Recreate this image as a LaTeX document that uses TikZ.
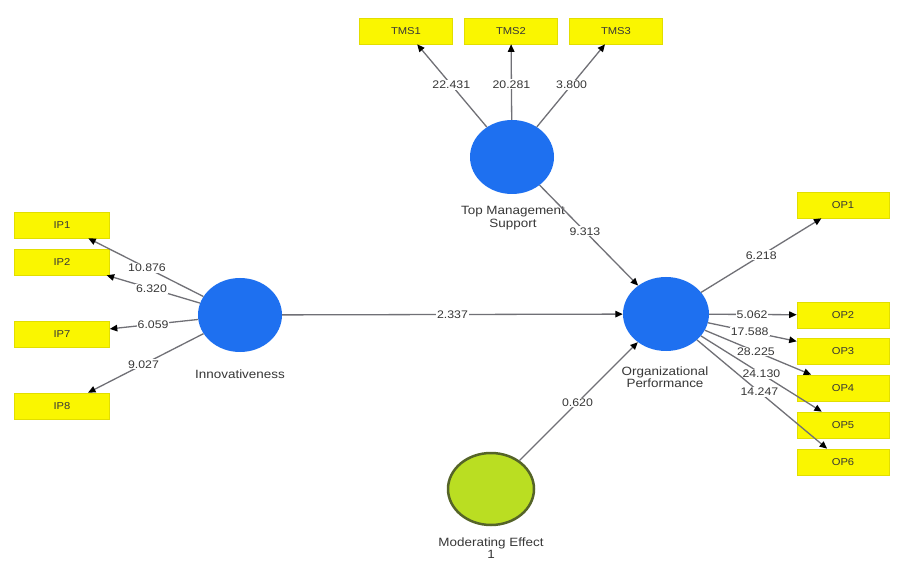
\documentclass[tikz,border=0pt]{standalone}
\usepackage{fontspec}
\setmainfont{Liberation Sans}[FakeStretch=1.12]
\usetikzlibrary{shapes.geometric,arrows.meta}
\definecolor{lvblue}{RGB}{30,112,240}
\definecolor{modgreen}{RGB}{186,222,34}
\definecolor{modedge}{RGB}{85,100,40}
\definecolor{itemyellow}{RGB}{250,246,0}
\definecolor{itemedge}{RGB}{226,222,0}
\definecolor{pathgray}{RGB}{112,112,118}
\definecolor{txtgray}{RGB}{55,55,55}

\begin{document}
\begin{tikzpicture}[x=1pt,y=-1pt,
  latent/.style={ellipse, fill=lvblue, minimum width=84pt, minimum height=74pt, inner sep=0pt},
  moderator/.style={ellipse, fill=modgreen, draw=modedge, line width=2.5pt,
    minimum width=86pt, minimum height=72pt, inner sep=0pt},
  item/.style={rectangle, fill=itemyellow, draw=itemedge, line width=0.6pt,
    minimum width=93pt, minimum height=26pt, inner sep=0pt,
    font=\fontsize{10}{12}\selectfont, text=txtgray},
  caption/.style={font=\fontsize{12}{12.5}\selectfont, text=txtgray, align=center, inner sep=0pt},
  weight/.style={font=\fontsize{11}{12}\selectfont, text=txtgray, fill=white, inner sep=1pt},
  link/.style={draw=pathgray, line width=1.3pt,
    -{Triangle[length=7.5pt,width=6.5pt,color=black]}},
]
% canvas
\fill[white] (0,0) rectangle (897,561);
\clip (0,0) rectangle (897,561);

% latent variables
\node[latent] (tms) at (512,157) {};
\node[latent] (inn) at (240,315) {};
\node[latent, minimum width=86pt] (op) at (666,314) {};
\node[moderator] (mod) at (491,489) {};

\node[caption] (tmscap) at (513,218) {Top Management\\Support};
\node[caption] (inncap) at (240,374) {Innovativeness};
\node[caption] (opcap) at (665,377) {Organizational\\Performance};
\node[caption, font=\fontsize{12}{10.5}\selectfont] (modcap) at (491,548) {Moderating Effect\\1};

% indicators
\node[item] (tms1) at (406,31) {TMS1};
\node[item] (tms2) at (511,31) {TMS2};
\node[item] (tms3) at (616,31) {TMS3};

\node[item, minimum width=95pt] (ip1) at (62,225) {IP1};
\node[item, minimum width=95pt] (ip2) at (62,262) {IP2};
\node[item, minimum width=95pt] (ip7) at (62,334) {IP7};
\node[item, minimum width=95pt] (ip8) at (62,406) {IP8};

\node[item, minimum width=92pt] (op1) at (843,205) {OP1};
\node[item, minimum width=92pt] (op2) at (843,315) {OP2};
\node[item, minimum width=92pt] (op3) at (843,351) {OP3};
\node[item, minimum width=92pt] (op4) at (843,388) {OP4};
\node[item, minimum width=92pt] (op5) at (843,425) {OP5};
\node[item, minimum width=92pt] (op6) at (843,462) {OP6};

% outer loadings
\draw[link] (tms) -- node[weight, pos=0.51] {22.431} (tms1);
\draw[link] (tms) -- node[weight, pos=0.47] {20.281} (tms2);
\draw[link] (tms) -- node[weight, pos=0.51] {3.800} (tms3);

\draw[link] (inn) -- node[weight, pos=0.49] {10.876} (ip1);
\draw[link] (inn) -- node[weight, pos=0.52] {6.320} (ip2);
\draw[link] (inn) -- node[weight, pos=0.51] {6.059} (ip7);
\draw[link] (inn) -- node[weight, pos=0.52] {9.027} (ip8);

\draw[link] (op) -- node[weight, pos=0.50] {6.218} (op1);
\draw[link] (op) -- node[weight, pos=0.49] {5.062} (op2);
\draw[link] (op) -- node[weight, pos=0.47] {17.588} (op3);
\draw[link] (op) -- node[weight, pos=0.48] {28.225} (op4);
\draw[link] (op) -- node[weight, pos=0.50] {24.130} (op5);
\draw[link] (op) -- node[weight, pos=0.48] {14.247} (op6);

% structural paths
\draw[link] (tms) -- node[weight, pos=0.46] {9.313} (op);
\draw[link] (inn) -- node[weight, pos=0.50] {2.337} (op);
\draw[link] (mod) -- node[weight, pos=0.49] {0.620} (op);
\end{tikzpicture}
\end{document}
